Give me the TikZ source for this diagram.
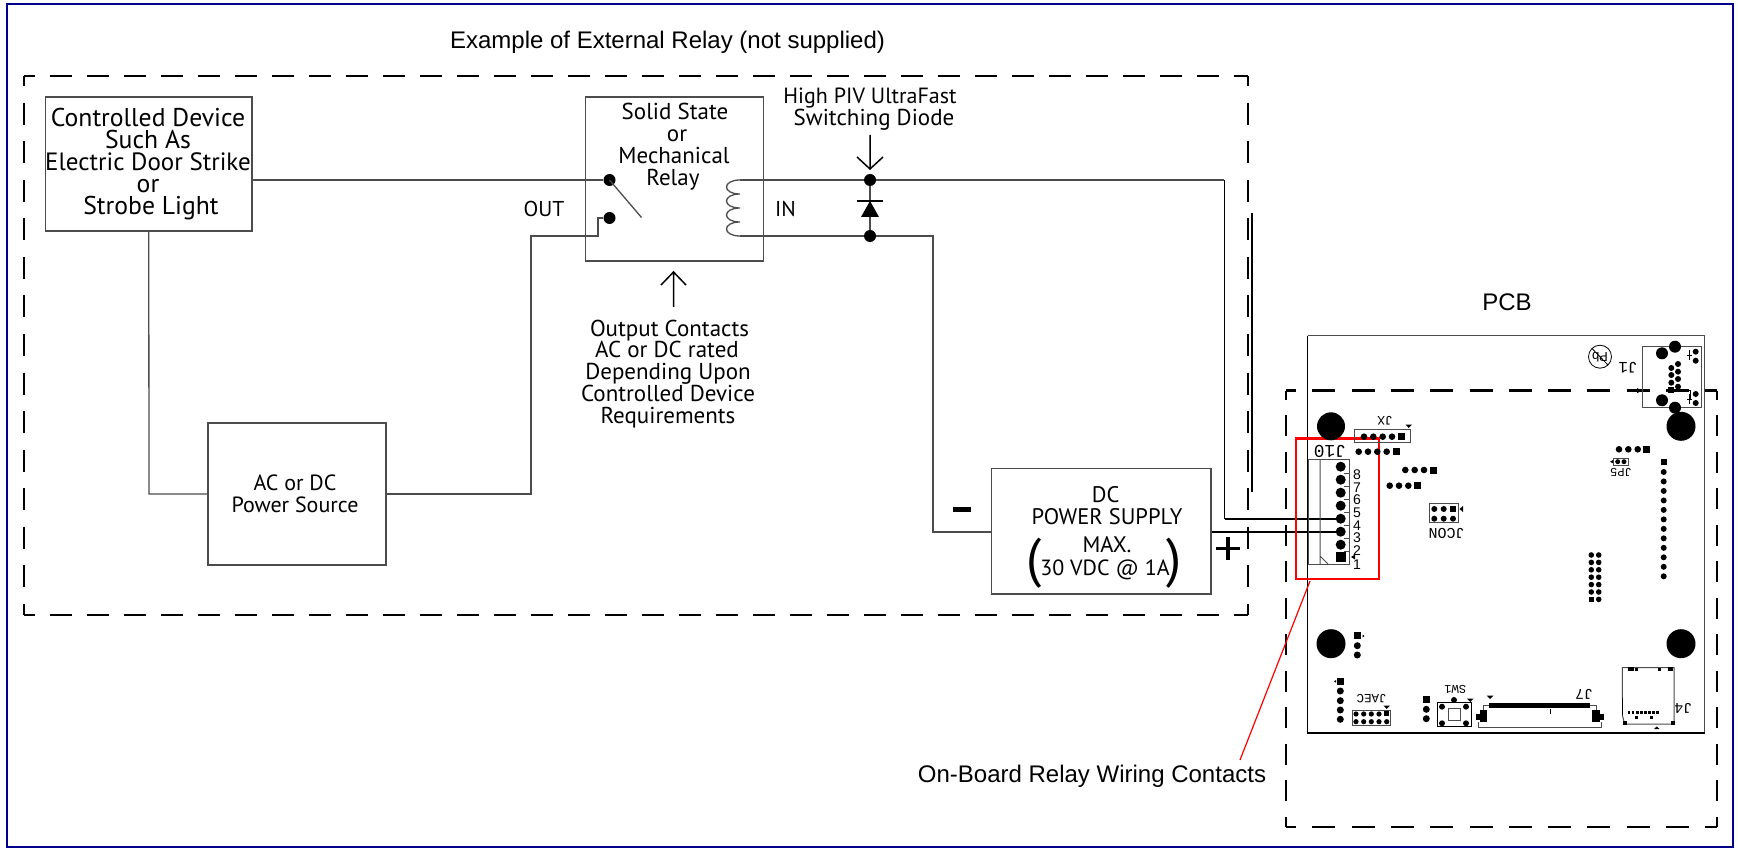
\documentclass[tikz,border=0pt]{standalone}
\usepackage{fontspec}
\setmainfont{PT Sans}
\newfontfamily\arialf{Liberation Sans}
\newfontfamily\monof{Liberation Mono}
\definecolor{navyb}{RGB}{0,0,139}
\definecolor{wiregray}{gray}{0.3}
\newcommand{\fsz}[1]{\fontsize{#1}{#1}\selectfont}
\newcommand{\pd}[3]{\fill (#1,#2) circle[radius=#3];}
\newcommand{\ps}[3]{\fill (#1-#3/2,#2-#3/2) rectangle (#1+#3/2,#2+#3/2);}
\tikzset{
  x=1pt,y=-1pt,
  wire/.style={draw=wiregray,line width=1.3pt},
  hotwire/.style={draw=black,line width=2.4pt},
  thinblack/.style={draw=black,line width=1.2pt},
  boxnode/.style={draw=wiregray,line width=1.3pt,fill=white,inner sep=0pt},
  lbl/.style={inner sep=0pt,anchor=base,text=black},
  my/.style={lbl,yshift=-1pt,font=\fsz{#1}},
  ar/.style={lbl,font=\arialf\fsz{#1}},
  silk/.style={inner sep=0pt,rotate=180,anchor=center,font=\monof\fsz{#1}},
  dot/.style={circle,fill=black,inner sep=0pt,minimum size=12pt},
  dashA/.style={draw=black,line width=2.6pt,dash pattern=on 22pt off 15pt,dash phase=11pt},
  dashB/.style={draw=black,line width=2.6pt,dash pattern=on 22pt off 16.5pt,dash phase=11.5pt},
  dashC/.style={draw=black,line width=2.6pt,dash pattern=on 23pt off 16.3pt,dash phase=13pt},
  dashD/.style={draw=black,line width=2.6pt,dash pattern=on 21pt off 15.5pt,dash phase=12pt},
  openarrow/.style={draw=black,line width=1.5pt},
  pcbgray/.style={draw=wiregray,line width=1pt},
}
\begin{document}
\begin{tikzpicture}
\useasboundingbox (0,0) rectangle (1738,850);
\fill[white] (0,0) rectangle (1738,850);
\draw[navyb,line width=2pt] (7,4) rectangle (1733,847);

% ---- PCB outline
\draw[wiregray,line width=1.3pt] (1307.5,335.7) -- (1704.7,335.7) -- (1704.7,733);
\draw[black,line width=1.1pt] (1307.5,335.7) -- (1307.5,733) -- (1704.7,733);

% ---- dashed frames
\coordinate (mTL) at (24,76); \coordinate (mTR) at (1248,76);
\coordinate (mBL) at (24,615); \coordinate (mBR) at (1248,615);
\draw[dashA] (mTL) -- (mTR);
\draw[dashA] (mBL) -- (mBR);
\draw[dashB] (mTL) -- (mBL);
\draw[dashB] (mTR) -- (mBR);
\coordinate (pTL) at (1286,390.6); \coordinate (pTR) at (1717,390.6);
\coordinate (pBL) at (1286,827); \coordinate (pBR) at (1717,827);
\draw[dashC] (pTL) -- (pTR);
\draw[dashC] (pBL) -- (pBR);
\draw[dashD] (pTL) -- (pBL);
\draw[dashD] (pTR) -- (pBR);

% ---- circuit boxes
\node[boxnode,minimum width=206.5pt,minimum height=134pt] (ctrl) at (148.75,164) {};
\node[boxnode,minimum width=178pt,minimum height=164pt] (relay) at (674.5,179) {};
\node[boxnode,minimum width=178pt,minimum height=142pt] (source) at (297,494) {};
\node[boxnode,minimum width=219.3pt,minimum height=125.3pt] (psu) at (1101.4,531.4) {};

% ---- relay internals
\node[dot] (c1) at (609.5,180) {};
\node[dot] (c2) at (609.5,218) {};
\coordinate (swtip) at (641.5,217.5);
\draw[wire] (c1.center) -- (swtip);
\coordinate (coilA) at (740,180); \coordinate (coilB) at (740,236);
\draw[wire] (coilA) .. controls (722,180) and (722,194) .. (740,194)
  .. controls (722,194) and (722,208) .. (740,208)
  .. controls (722,208) and (722,222) .. (740,222)
  .. controls (722,222) and (722,236) .. (coilB);

% ---- diode
\node[dot] (dA) at (870,180) {};
\node[dot] (dB) at (870,236) {};
\draw[wire] (dA) -- (dB);
\draw[black,line width=1.3pt] (857,201) -- (883,201);
\fill[black] (870,201) -- (879,217) -- (861,217) -- cycle;

% ---- wires
\draw[wire] (ctrl.east |- c1) -- (c1);
\draw[wire] (ctrl.south) -- (149,494) -- (source.west);
\coordinate (kA) at (531,494); \coordinate (kB) at (531,236); \coordinate (kC) at (598,236); \coordinate (kD) at (598,218);
\draw[wire] (source.east) -- (kA) -- (kB) -- (kC) -- (kD) -- (c2);
\draw[wire] (coilA) -- (dA) -- (1223.5,180);
\draw[wire] (coilB) -- (dB) -- (933,236) -- (933,532) -- (psu.west |- 933,532);

% ---- J10 pins (named)
\foreach \n/\y in {8/466.7,7/479.7,6/492.7,5/505.7,4/518.7,3/531.7,2/544.7}{
  \node[circle,fill=black,inner sep=0pt,minimum size=10pt] (pin\n) at (1340.7,\y) {};
}
\draw[thinblack] (1224.5,180) -- (1224.5,518.7);
\draw[hotwire] (1224.5,518.7) -- (pin4.center);
\draw[hotwire] (psu.east |- 1211,531.7) -- (pin3.west);
\draw[thinblack] (1252,213) -- (1252,492);

% ---- arrows
\coordinate (a1s) at (870,135); \coordinate (a1e) at (870,169);
\draw[openarrow] (a1s) -- (a1e) (857,157) -- (a1e) -- (883,157);
\coordinate (a2s) at (673.5,307); \coordinate (a2e) at (673.5,272);
\draw[openarrow] (a2s) -- (a2e) (661,285) -- (a2e) -- (686,285);

% ---- red highlight
\draw[red,line width=2.6pt] (1296,438.7) rectangle (1379,579);
\coordinate (r1) at (1310,581); \coordinate (r2) at (1240,760);
\draw[red,line width=1.2pt] (r1) -- (r2);

% ---- text
\node[ar=24] (t1) at (667.5,48.5) {Example of External Relay (not supplied)};
\node[ar=24] (t2) at (1507,311) {PCB};
\node[ar=24] (t3) at (1092,782.5) {On-Board Relay Wiring Contacts};
\node[my=25.7] (a1) at (148,126) {Controlled Device};
\node[my=25.7] (a2) at (148,148) {Such As};
\node[my=25] (a3) at (148,170) {Electric Door Strike};
\node[my=25.7] (a4) at (148,192) {or};
\node[my=25.7] (a5) at (151,214) {Strobe Light};
\node[my=23] (b1) at (675,119) {Solid State};
\node[my=23] (b2) at (677,141) {or};
\node[my=23] (b3) at (674,163) {Mechanical};
\node[my=23] (b4) at (673,184.7) {Relay};
\node[my=22] (c3) at (870,103) {High PIV UltraFast};
\node[my=23] (c4) at (874,125) {Switching Diode};
\node[my=21.5] (d1) at (785.5,216) {IN};
\node[my=21.5] (d2) at (544,215.5) {OUT};
\node[my=23] (e1) at (669.5,336) {Output Contacts};
\node[my=23] (e2) at (667,357) {AC or DC rated};
\node[my=23] (e3) at (668,379) {Depending Upon};
\node[my=23] (e4) at (668,400) {Controlled Device};
\node[my=23] (e5) at (668,422) {Requirements};
\node[my=22] (f1) at (295,489) {AC or DC};
\node[my=22] (f2) at (295,511) {Power Source};
\node[my=22.5] (g1) at (1105.7,501) {DC};
\node[my=22.5] (g2) at (1107,523.7) {POWER SUPPLY};
\node[my=22.5] (g3) at (1107,551) {MAX.};
\node[my=22] (g4) at (1105,574) {30 VDC @ 1A};
\node[my=54] (g5) at (1034.5,575) {(};
\node[my=54] (g6) at (1174.5,575) {)};
\fill[black] (953,507) rectangle (971,512);
\fill[black] (1216,546.7) rectangle (1240,550.3);
\fill[black] (1226.2,537) rectangle (1229.8,560);

% ---- J10 body
\draw[pcbgray] (1308.3,459.7) rectangle (1349.3,564);
\draw[pcbgray] (1320,459.7) -- (1320,564) (1320,556) -- (1328,564);
\foreach \y in {473.2,486.2,499.2,512.2,525.2,538.2,551.2}{\draw[pcbgray] (1344,\y) -- (1349.3,\y);}
\ps{1340.7}{557}{10}
\fill (1351,557) -- (1355,554.5) -- (1355,559.5) -- cycle;
\node[ar=14] (n8) at (1357,479) {8};
\node[ar=14] (n7) at (1357,492) {7};
\node[ar=14] (n6) at (1357,504.3) {6};
\node[ar=14] (n5) at (1357,517) {5};
\node[ar=14] (n4) at (1357,530) {4};
\node[ar=14] (n3) at (1357,542.3) {3};
\node[ar=14] (n2) at (1357,555) {2};
\node[ar=14] (n1) at (1357,569) {1};
\node[silk=18] (j10) at (1330,451.7) {J10};

% ---- mounting holes
\pd{1331}{426.3}{14}
\pd{1681}{426.3}{14.5}
\pd{1331}{643.7}{14.5}
\pd{1681}{643.7}{14.5}

% ---- JX
\draw[pcbgray] (1354.7,429.3) rectangle (1410,442.3);
\foreach \x in {1364,1373.3,1382.7,1392}{\pd{\x}{436.7}{3.3}}
\ps{1401.3}{436.7}{7}
\fill (1405.5,424.5) -- (1412,424.5) -- (1408.7,428) -- cycle;
\node[silk=13] (jx) at (1385,420.7) {JX};

% ---- pin rows
\foreach \x in {1358.7,1368,1377.3,1386.7}{\pd{\x}{451.7}{3.3}}
\ps{1396}{451.7}{7}
\foreach \x in {1405.3,1414.7,1424}{\pd{\x}{470}{3.3}}
\ps{1433.3}{470}{7}
\foreach \x in {1389.7,1399,1408.3}{\pd{\x}{485.7}{3.3}}
\ps{1417.7}{485.7}{7}

% ---- JCON
\draw[pcbgray] (1429.7,503.7) rectangle (1458.7,522.7);
\pd{1434.3}{509}{3}\pd{1443.7}{509}{3}\ps{1453}{509}{6}
\pd{1434.3}{518.7}{3}\pd{1443.7}{518.7}{3}\pd{1453}{518.7}{3}
\fill (1459.5,509) -- (1463,506) -- (1463,512) -- cycle;
\node[silk=15] (jcon) at (1446.7,533.3) {JCON};

% ---- J1
\node[silk=16] (j1) at (1628,367.7) {J1};
\draw[black,line width=.8pt] (1600,356.7) circle[radius=11.5];
\draw[black,line width=.8pt] (1592,348.5) -- (1608,365);
\node[silk=12,font=\arialf\fsz{13}] (pb) at (1600,356.7) {Pb};
\draw[pcbgray] (1642.3,346.3) rectangle (1701,407.7);
\pd{1662}{353.3}{6}\pd{1675}{346.7}{6}\pd{1662}{400.3}{6}\pd{1675}{407.7}{6}
\foreach \y in {351.7,360.7,394,403}{\pd{1695.7}{\y}{3}}
\draw[black,line width=.7pt] (1689.3,350) -- (1689.3,360) (1687,355) -- (1691.5,355)
  (1689.3,394) -- (1689.3,404) (1687,399.3) -- (1691.5,399.3);
\foreach \y in {364,371.7,379,386.7}{\pd{1678}{\y}{3}}
\foreach \y in {368,375,382.7}{\pd{1671.3}{\y}{3}}
\ps{1671}{390}{6}
\draw[black,line width=1pt] (1671,390.6) -- (1690,390.6) -- (1690,400);
\fill (1642,390.6) -- (1637,388) -- (1637,393.2) -- cycle;

% ---- right-hand row, JP5, headers
\foreach \x in {1619,1628.3,1637.7}{\pd{\x}{449.3}{3.3}}
\ps{1646.7}{449.3}{7}
\draw[pcbgray] (1613,458) rectangle (1628.7,465.3);
\pd{1617.7}{461.7}{2.5}\pd{1624}{461.7}{2.5}
\fill (1610,461.7) -- (1613,460) -- (1613,463.4) -- cycle;
\node[silk=12] (jp5) at (1621,472.7) {JP5};
\ps{1663.7}{462}{6}
\foreach \i in {0,...,11}{\pd{1663.7}{472+\i*9.48}{3}}
\foreach \i in {0,...,6}{\pd{1598.7}{555+\i*7.4}{2.8}}
\foreach \i in {0,...,5}{\pd{1591.3}{555+\i*7.4}{2.8}}
\ps{1591.3}{599.4}{5.5}

% ---- bottom headers
\ps{1357.3}{635.3}{7}\pd{1357.3}{645.7}{3.5}\pd{1357.3}{655}{3.5}
\fill (1362.5,634.5) -- (1364.5,636) -- (1362.5,637.5) -- cycle;
\ps{1340.3}{681.3}{7}
\foreach \y in {691,700.7,710,719.3}{\pd{1340.3}{\y}{3.5}}
\fill (1336,680) -- (1334,681.3) -- (1336,682.6) -- cycle;
\node[silk=12.5] (jaec) at (1371.7,698.7) {JAEC};
\draw[pcbgray] (1352.7,710.3) rectangle (1390.7,725.3);
\foreach \x in {1356,1363.7,1371.3,1379}{\pd{\x}{714}{2.6}}
\ps{1386.7}{713.5}{5.5}
\foreach \x in {1356,1363.7,1371.3,1379,1386.7}{\pd{\x}{721.7}{2.6}}
\fill (1383.5,705.5) -- (1390,705.5) -- (1386.7,709) -- cycle;
\ps{1426.3}{699.3}{7}\pd{1426.3}{709.3}{3.5}\pd{1426.3}{718.7}{3.5}

% ---- SW1
\node[silk=12] (sw1) at (1455.3,689.3) {SW1};
\draw[black,line width=.9pt] (1437.3,702) rectangle (1471,726.7);
\draw[pcbgray] (1448.3,708.7) rectangle (1460.3,720);
\pd{1442}{706.7}{3}\pd{1466}{706.7}{3}\pd{1442}{723.3}{3}\pd{1466}{723.3}{3}\pd{1454}{700}{3}
\fill (1467,698.5) -- (1473.5,698.5) -- (1470.3,702) -- cycle;

% ---- J7
\node[silk=15] (j7) at (1584,694) {J7};
\fill (1489,703) rectangle (1590,707.7);
\fill (1486.5,695.5) -- (1493.5,695.5) -- (1490,699) -- cycle;
\fill (1480,710) rectangle (1486.7,722);
\fill (1476,714) rectangle (1480,720);
\fill (1592,710) rectangle (1600,722);
\fill (1600,714) rectangle (1604,720);
\draw[pcbgray] (1478,722) -- (1478,727) -- (1601.7,727) -- (1601.7,722);
\draw[pcbgray] (1483,710) -- (1483,705) -- (1489,705) (1590,705) -- (1596,705) -- (1596,710);
\draw[black,line width=.8pt] (1550.7,708.5) -- (1550.7,714);

% ---- J4
\node[silk=15] (j4) at (1683.3,708.3) {J4};
\draw[pcbgray] (1622.3,698) -- (1622.3,667.7) -- (1674,667.7) -- (1674,724) -- (1624.7,724) -- (1622.3,715);
\draw[black,line width=1.6pt] (1622.3,698) -- (1622.3,715);
\fill (1628,667) rectangle (1633.5,671);
\fill (1635,667.5) rectangle (1637.5,670.5);
\fill (1658,667.5) rectangle (1660.5,670.5);
\fill (1667.5,667) rectangle (1673,671);
\fill (1622.7,720.7) rectangle (1626.7,724.7);
\fill (1671,720.7) rectangle (1675,724.7);
\foreach \i in {0,...,7}{\fill (1629+\i*4.1-1.3,711) rectangle (1629+\i*4.1+1.3,714.3);}
\fill (1635,716) rectangle (1637.6,718.6);
\fill (1650,716) rectangle (1652.6,718.6);
\fill (1654,729) -- (1659.5,729) -- (1656.7,726.5) -- cycle;
\end{tikzpicture}
\end{document}
